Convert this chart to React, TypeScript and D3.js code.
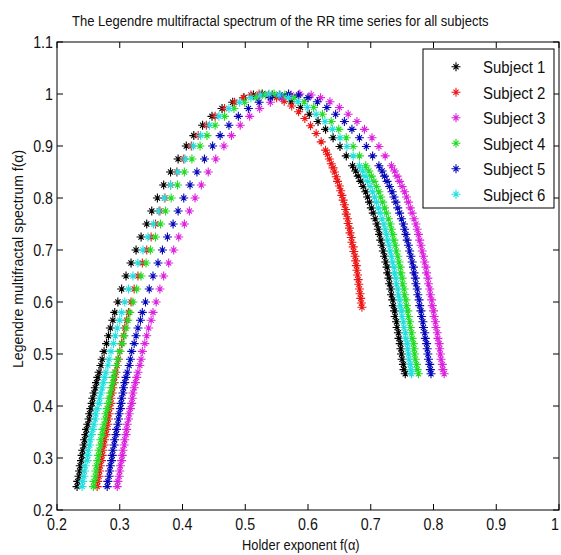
import React from "react";
import * as d3 from "d3";

const W = 561;
const H = 555;

const titleText = "The Legendre multifractal spectrum of the RR time series for all subjects";
const xLabelText = "Holder exponent f(\u03B1)";
const yLabelText = "Legendre multifractal spectrum f(\u03B1)";

const xTicks = [0.2, 0.3, 0.4, 0.5, 0.6, 0.7, 0.8, 0.9, 1.0];
const xTickLabels = ["0.2", "0.3", "0.4", "0.5", "0.6", "0.7", "0.8", "0.9", "1"];
const yTicks = [0.2, 0.3, 0.4, 0.5, 0.6, 0.7, 0.8, 0.9, 1.0, 1.1];
const yTickLabels = ["0.2", "0.3", "0.4", "0.5", "0.6", "0.7", "0.8", "0.9", "1", "1.1"];

const seriesNames = ["Subject 1", "Subject 2", "Subject 3", "Subject 4", "Subject 5", "Subject 6"];
const seriesColors = ["#000000", "#ee1515", "#dd22dd", "#22dd22", "#0808b8", "#22e0e0"];

// f(alpha) levels of the markers
const fAscLow = [0.245, 0.255, 0.265, 0.275, 0.285, 0.295, 0.305, 0.315, 0.325, 0.335, 0.345, 0.355, 0.365, 0.375, 0.385, 0.395, 0.405, 0.415, 0.425, 0.435, 0.445, 0.455, 0.465, 0.478, 0.49, 0.505, 0.52, 0.535, 0.55, 0.565, 0.58, 0.60];
const fAscHigh = [0.625, 0.65, 0.675, 0.70, 0.725, 0.75, 0.775, 0.80, 0.825, 0.85, 0.875, 0.90, 0.92, 0.94, 0.957, 0.972, 0.984, 0.993, 0.998, 1.0];
const fDescHigh = [0.998, 0.993, 0.985, 0.974, 0.961, 0.947, 0.932, 0.916, 0.899, 0.881, 0.862];
const fDescLow = [0.852, 0.842, 0.832, 0.822, 0.812, 0.802, 0.792, 0.781, 0.771, 0.760, 0.750, 0.740, 0.730, 0.719, 0.709, 0.698, 0.688, 0.677, 0.667, 0.656, 0.646, 0.635, 0.625, 0.614, 0.604, 0.593, 0.583, 0.572, 0.562, 0.551, 0.541, 0.530, 0.520, 0.510, 0.500, 0.490, 0.480, 0.470, 0.462];
const fDescSubject2 = [0.998, 0.993, 0.986, 0.977, 0.966, 0.953, 0.939, 0.924, 0.908, 0.892, 0.884, 0.875, 0.866, 0.858, 0.850, 0.841, 0.832, 0.823, 0.814, 0.805, 0.796, 0.787, 0.778, 0.769, 0.760, 0.751, 0.742, 0.733, 0.724, 0.715, 0.706, 0.697, 0.688, 0.679, 0.670, 0.661, 0.652, 0.643, 0.634, 0.625, 0.616, 0.607, 0.598, 0.590];

// Holder exponent alpha of each subject's markers
const s1AscLow = [0.232, 0.233, 0.235, 0.236, 0.237, 0.239, 0.240, 0.241, 0.243, 0.244, 0.246, 0.247, 0.249, 0.251, 0.252, 0.254, 0.256, 0.257, 0.259, 0.261, 0.263, 0.265, 0.267, 0.270, 0.272, 0.275, 0.279, 0.282, 0.285, 0.289, 0.292, 0.297];
const s1AscHigh = [0.303, 0.310, 0.318, 0.326, 0.334, 0.343, 0.351, 0.360, 0.370, 0.381, 0.393, 0.406, 0.418, 0.432, 0.447, 0.463, 0.480, 0.498, 0.513, 0.527];
const s1DescHigh = [0.543, 0.558, 0.573, 0.588, 0.602, 0.616, 0.628, 0.640, 0.651, 0.661, 0.671];
const s1DescLow = [0.676, 0.680, 0.684, 0.688, 0.692, 0.695, 0.698, 0.701, 0.704, 0.707, 0.710, 0.712, 0.714, 0.716, 0.718, 0.720, 0.722, 0.724, 0.726, 0.727, 0.729, 0.730, 0.732, 0.733, 0.735, 0.736, 0.738, 0.739, 0.741, 0.742, 0.744, 0.745, 0.747, 0.748, 0.749, 0.750, 0.752, 0.753, 0.755];

const s2AscLow = [0.264, 0.265, 0.267, 0.268, 0.269, 0.271, 0.272, 0.273, 0.275, 0.276, 0.278, 0.279, 0.281, 0.282, 0.283, 0.284, 0.286, 0.286, 0.288, 0.289, 0.291, 0.292, 0.294, 0.296, 0.298, 0.300, 0.303, 0.306, 0.308, 0.311, 0.314, 0.318];
const s2AscHigh = [0.323, 0.329, 0.336, 0.343, 0.350, 0.357, 0.364, 0.372, 0.381, 0.391, 0.402, 0.414, 0.425, 0.438, 0.452, 0.467, 0.483, 0.497, 0.509, 0.522];
const s2Desc = [0.537, 0.550, 0.562, 0.574, 0.585, 0.595, 0.604, 0.613, 0.621, 0.628, 0.631, 0.634, 0.637, 0.640, 0.642, 0.645, 0.647, 0.650, 0.652, 0.654, 0.656, 0.658, 0.660, 0.661, 0.663, 0.664, 0.666, 0.667, 0.669, 0.670, 0.672, 0.673, 0.675, 0.676, 0.677, 0.678, 0.679, 0.680, 0.681, 0.682, 0.683, 0.684, 0.685, 0.686];

const s3AscLow = [0.296, 0.297, 0.299, 0.300, 0.301, 0.303, 0.304, 0.305, 0.307, 0.308, 0.310, 0.311, 0.312, 0.314, 0.315, 0.317, 0.319, 0.320, 0.321, 0.323, 0.325, 0.327, 0.329, 0.332, 0.334, 0.336, 0.340, 0.343, 0.346, 0.350, 0.353, 0.358];
const s3AscHigh = [0.364, 0.370, 0.378, 0.386, 0.394, 0.403, 0.411, 0.420, 0.430, 0.441, 0.453, 0.466, 0.478, 0.492, 0.507, 0.523, 0.540, 0.558, 0.573, 0.587];
const s3DescHigh = [0.605, 0.620, 0.635, 0.650, 0.664, 0.678, 0.690, 0.702, 0.713, 0.723, 0.733];
const s3DescLow = [0.738, 0.742, 0.746, 0.750, 0.754, 0.757, 0.760, 0.763, 0.766, 0.769, 0.772, 0.774, 0.776, 0.778, 0.780, 0.782, 0.784, 0.786, 0.788, 0.789, 0.791, 0.792, 0.794, 0.795, 0.797, 0.798, 0.800, 0.801, 0.803, 0.804, 0.806, 0.807, 0.809, 0.810, 0.811, 0.812, 0.814, 0.815, 0.817];

const s4AscLow = [0.258, 0.259, 0.261, 0.262, 0.263, 0.265, 0.266, 0.267, 0.269, 0.270, 0.272, 0.273, 0.275, 0.277, 0.278, 0.280, 0.282, 0.283, 0.285, 0.287, 0.289, 0.290, 0.292, 0.295, 0.297, 0.300, 0.304, 0.307, 0.310, 0.313, 0.316, 0.321];
const s4AscHigh = [0.327, 0.334, 0.342, 0.349, 0.357, 0.365, 0.373, 0.382, 0.392, 0.403, 0.415, 0.428, 0.439, 0.452, 0.467, 0.482, 0.499, 0.517, 0.532, 0.546];
const s4DescHigh = [0.563, 0.578, 0.594, 0.609, 0.623, 0.637, 0.649, 0.661, 0.672, 0.682, 0.692];
const s4DescLow = [0.697, 0.701, 0.705, 0.709, 0.713, 0.716, 0.719, 0.722, 0.725, 0.728, 0.731, 0.733, 0.735, 0.737, 0.739, 0.741, 0.743, 0.745, 0.747, 0.748, 0.750, 0.751, 0.753, 0.754, 0.756, 0.757, 0.759, 0.760, 0.762, 0.763, 0.765, 0.766, 0.768, 0.769, 0.770, 0.771, 0.773, 0.774, 0.776];

const s5AscLow = [0.280, 0.281, 0.283, 0.284, 0.285, 0.287, 0.288, 0.289, 0.291, 0.292, 0.294, 0.295, 0.297, 0.298, 0.299, 0.301, 0.302, 0.303, 0.305, 0.306, 0.308, 0.310, 0.312, 0.315, 0.317, 0.319, 0.323, 0.326, 0.329, 0.333, 0.336, 0.341];
const s5AscHigh = [0.347, 0.353, 0.361, 0.368, 0.376, 0.385, 0.393, 0.402, 0.412, 0.423, 0.435, 0.448, 0.460, 0.474, 0.489, 0.505, 0.522, 0.540, 0.555, 0.569];
const s5DescHigh = [0.585, 0.600, 0.615, 0.630, 0.644, 0.658, 0.670, 0.682, 0.693, 0.703, 0.713];
const s5DescLow = [0.718, 0.722, 0.726, 0.730, 0.734, 0.737, 0.740, 0.743, 0.746, 0.749, 0.752, 0.754, 0.756, 0.758, 0.760, 0.762, 0.764, 0.766, 0.768, 0.769, 0.771, 0.772, 0.774, 0.775, 0.777, 0.778, 0.780, 0.781, 0.783, 0.784, 0.786, 0.787, 0.789, 0.790, 0.791, 0.792, 0.794, 0.795, 0.796];

const s6AscLow = [0.240, 0.241, 0.243, 0.244, 0.245, 0.248, 0.249, 0.250, 0.252, 0.253, 0.255, 0.257, 0.259, 0.261, 0.262, 0.264, 0.267, 0.268, 0.270, 0.272, 0.274, 0.276, 0.278, 0.281, 0.283, 0.286, 0.290, 0.293, 0.296, 0.300, 0.303, 0.308];
const s6AscHigh = [0.314, 0.321, 0.329, 0.337, 0.345, 0.354, 0.362, 0.371, 0.381, 0.392, 0.404, 0.417, 0.429, 0.443, 0.458, 0.474, 0.491, 0.509, 0.524, 0.538];
const s6DescHigh = [0.554, 0.569, 0.584, 0.599, 0.613, 0.627, 0.639, 0.651, 0.662, 0.672, 0.682];
const s6DescLow = [0.687, 0.691, 0.695, 0.699, 0.703, 0.706, 0.709, 0.712, 0.715, 0.718, 0.721, 0.723, 0.725, 0.727, 0.729, 0.731, 0.733, 0.735, 0.737, 0.738, 0.740, 0.741, 0.743, 0.744, 0.746, 0.747, 0.749, 0.750, 0.752, 0.753, 0.755, 0.756, 0.758, 0.759, 0.760, 0.761, 0.763, 0.764, 0.765];

function pairs(alphas: number[], fs: number[]): [number, number][] {
  const n = Math.min(alphas.length, fs.length);
  const out: [number, number][] = [];
  for (let i = 0; i < n; i++) out.push([alphas[i], fs[i]]);
  return out;
}

function fullSeries(low: number[], high: number[], dHigh: number[], dLow: number[]) {
  return [
    ...pairs(low, fAscLow),
    ...pairs(high, fAscHigh),
    ...pairs(dHigh, fDescHigh),
    ...pairs(dLow, fDescLow),
  ];
}

const allSeries: [number, number][][] = [
  fullSeries(s1AscLow, s1AscHigh, s1DescHigh, s1DescLow),
  [...pairs(s2AscLow, fAscLow), ...pairs(s2AscHigh, fAscHigh), ...pairs(s2Desc, fDescSubject2)],
  fullSeries(s3AscLow, s3AscHigh, s3DescHigh, s3DescLow),
  fullSeries(s4AscLow, s4AscHigh, s4DescHigh, s4DescLow),
  fullSeries(s5AscLow, s5AscHigh, s5DescHigh, s5DescLow),
  fullSeries(s6AscLow, s6AscHigh, s6DescHigh, s6DescLow),
];

const FONT = "'Liberation Sans', Arial, Helvetica, sans-serif";

const plotLeft = 57;
const plotRight = 559;
const plotTop = 42;
const plotBottom = 510;

const xScale = d3.scaleLinear().domain([0.2, 1.0]).range([plotLeft, plotRight]);
const yScale = d3.scaleLinear().domain([0.2, 1.1]).range([plotBottom, plotTop]);

function starPath(cx: number, cy: number): string {
  const a = 4.5;
  const b = 2.6;
  return (
    `M${cx - a},${cy}L${cx + a},${cy}` +
    `M${cx},${cy - a}L${cx},${cy + a}` +
    `M${cx - b},${cy - b}L${cx + b},${cy + b}` +
    `M${cx - b},${cy + b}L${cx + b},${cy - b}`
  );
}

export default function App() {
  const tickLen = 6;
  const sx = 0.84;
  const legendX = 423;
  const legendY = 49;
  const legendW = 131;
  const legendH = 159;
  const legendRow0 = 66.7;
  const legendStep = 25.5;

  return (
    <svg
      width={W}
      height={H}
      style={{ position: "absolute", left: 0, top: 0, background: "#ffffff" }}
      fontFamily={FONT}
    >
      <rect x={0} y={0} width={W} height={H} fill="#ffffff" />
      <text
        transform={`translate(72,26) scale(0.93,1.1)`}
        fontSize={14}
        fill="#111"
      >
        {titleText}
      </text>

      {allSeries.map((s, i) => (
        <path
          key={i}
          d={s.map(([a, f]) => starPath(xScale(a), yScale(f))).join("")}
          stroke={seriesColors[i]}
          strokeWidth={1.1}
          fill="none"
        />
      ))}

      <rect
        x={plotLeft}
        y={plotTop}
        width={plotRight - plotLeft}
        height={plotBottom - plotTop}
        fill="none"
        stroke="#000"
        strokeWidth={1}
      />
      {xTicks.map((t, i) => {
        const x = xScale(t);
        const lx = i === xTicks.length - 1 ? x - 4 : x;
        return (
          <g key={"xt" + i}>
            <line x1={x} x2={x} y1={plotBottom} y2={plotBottom - tickLen} stroke="#000" />
            <line x1={x} x2={x} y1={plotTop} y2={plotTop + tickLen} stroke="#000" />
            <text
              transform={`translate(${lx},${plotBottom + 20}) scale(${sx},1)`}
              textAnchor="middle"
              fontSize={17}
              fill="#111"
            >
              {xTickLabels[i]}
            </text>
          </g>
        );
      })}
      {yTicks.map((t, i) => {
        const y = yScale(t);
        return (
          <g key={"yt" + i}>
            <line x1={plotLeft} x2={plotLeft + tickLen} y1={y} y2={y} stroke="#000" />
            <line x1={plotRight} x2={plotRight - tickLen} y1={y} y2={y} stroke="#000" />
            <text
              transform={`translate(${plotLeft - 4},${y + 6}) scale(${sx},1)`}
              textAnchor="end"
              fontSize={17}
              fill="#111"
            >
              {yTickLabels[i]}
            </text>
          </g>
        );
      })}

      <text
        transform={`translate(242,550) scale(0.92,1.1)`}
        fontSize={14}
        fill="#111"
      >
        {xLabelText}
      </text>
      <text
        transform={`translate(23,368) rotate(-90) scale(0.97,1.05)`}
        fontSize={14.5}
        fill="#111"
      >
        {yLabelText}
      </text>

      <rect
        x={legendX}
        y={legendY}
        width={legendW}
        height={legendH}
        fill="#ffffff"
        stroke="#000"
        strokeWidth={1}
      />
      {seriesNames.map((name, i) => {
        const cy = legendRow0 + i * legendStep;
        return (
          <g key={"lg" + i}>
            <path d={starPath(456, cy)} stroke={seriesColors[i]} strokeWidth={1.1} fill="none" />
            <text
              transform={`translate(483,${cy + 6.5}) scale(0.88,1)`}
              fontSize={17}
              fill="#111"
            >
              {name}
            </text>
          </g>
        );
      })}
    </svg>
  );
}
